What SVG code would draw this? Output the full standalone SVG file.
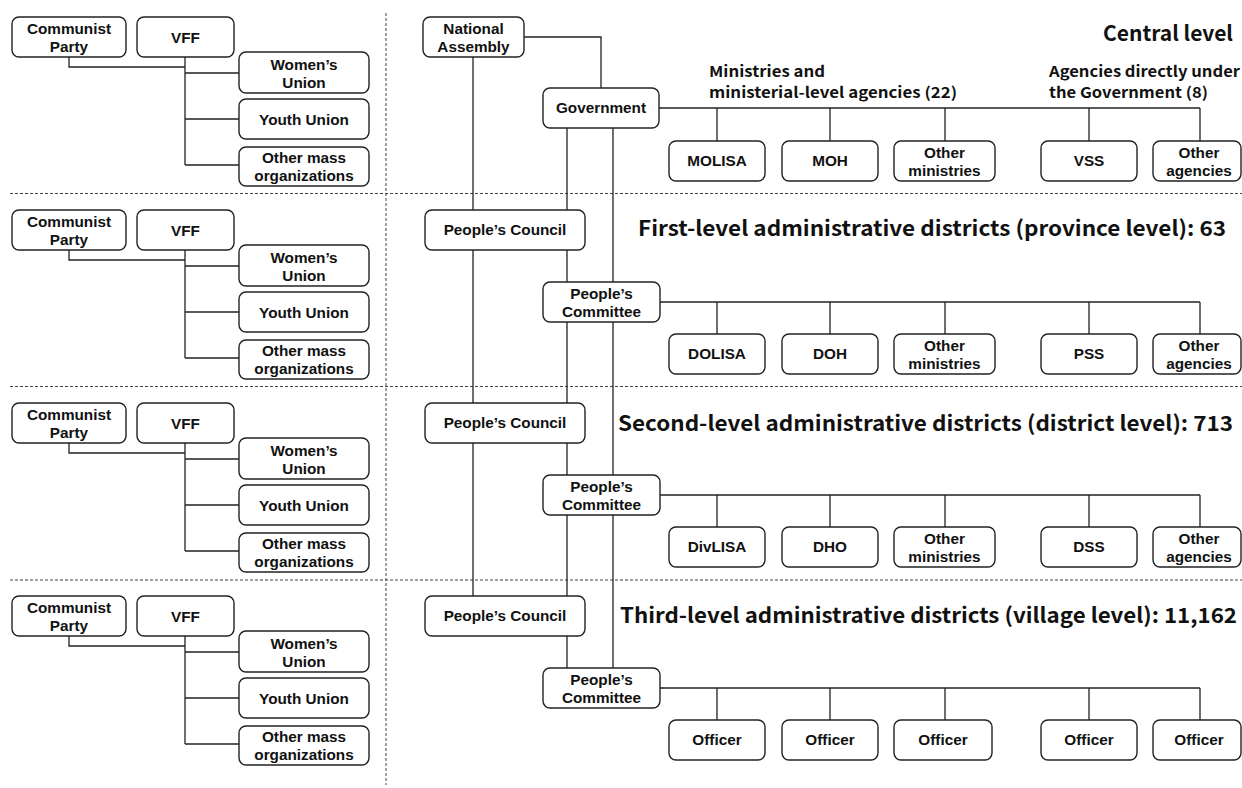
<svg xmlns="http://www.w3.org/2000/svg" width="1242" height="788" viewBox="0 0 1242 788">
<style>
.box{fill:#fff;stroke:#222;stroke-width:1.4}
.lbl{font-family:"Liberation Sans",Arial,Helvetica,sans-serif;font-weight:700;font-size:15.3px;fill:#111;text-anchor:middle}
.ttl{font-family:"Noto Sans CJK JP","Noto Sans",sans-serif;font-weight:700;font-size:21px;fill:#111}
.sub{font-family:"Noto Sans CJK JP","Noto Sans",sans-serif;font-weight:700;font-size:15px;fill:#111}
.ln{stroke:#222;stroke-width:1.3;fill:none}
.dash{stroke:#444;stroke-width:1;stroke-dasharray:3 2;fill:none}
</style>
<rect width="1242" height="788" fill="#fff"/>
<g id="separators">
<path class="dash" d="M10,193.5H1242M10,386.5H1242M10,580H1242M386,13V785"/>
</g>
<g id="connectors">
<g id="left-connectors">
<path class="ln" d="M69,57V67H185M185,57V165M185,73H239M185,119H239M185,165H239"/>
<path class="ln" transform="translate(0,193)" d="M69,57V67H185M185,57V165M185,73H239M185,119H239M185,165H239"/>
<path class="ln" transform="translate(0,386)" d="M69,57V67H185M185,57V165M185,73H239M185,119H239M185,165H239"/>
<path class="ln" transform="translate(0,579)" d="M69,57V67H185M185,57V165M185,73H239M185,119H239M185,165H239"/>
</g>
<g id="right-connectors">
<path class="ln" d="M524,37H601V88M473,57V210M567,128V210M613,128V282M659,108H1200M717,108V141M830,108V141M945,108V141M1089,108V141M1200,108V141"/>
<path class="ln" d="M473,250V403M567,250V282M567,322V403M613,322V475M660,302H1200M717,302V334M830,302V334M945,302V334M1089,302V334M1200,302V334"/>
<path class="ln" d="M473,443V596M567,443V475M567,515V596M613,515V668M660,495H1200M717,495V527M830,495V527M945,495V527M1089,495V527M1200,495V527"/>
<path class="ln" d="M567,636V668M660,688H1200M717,688V720M830,688V720M945,688V720M1089,688V720M1200,688V720"/>
</g>
</g>
<g id="left-row1">
<g id="cp1"><rect class="box" x="12" y="17" width="114" height="40" rx="7"/><text class="lbl" x="69" y="33.5">Communist</text><text class="lbl" x="69" y="51.5">Party</text></g>
<g id="vff1"><rect class="box" x="137" y="17" width="97" height="40" rx="7"/><text class="lbl" x="185.5" y="42.5">VFF</text></g>
<g id="wu1"><rect class="box" x="239" y="52" width="130" height="41" rx="7"/><text class="lbl" x="304" y="69.5">Women’s</text><text class="lbl" x="304" y="87.5">Union</text></g>
<g id="yu1"><rect class="box" x="239" y="99" width="130" height="40" rx="7"/><text class="lbl" x="304" y="124.5">Youth Union</text></g>
<g id="omo1"><rect class="box" x="239" y="147" width="130" height="39" rx="7"/><text class="lbl" x="304" y="163.3">Other mass</text><text class="lbl" x="304" y="181.3">organizations</text></g>
</g>
<g id="left-row2" transform="translate(0,193)">
<g id="cp2"><rect class="box" x="12" y="17" width="114" height="40" rx="7"/><text class="lbl" x="69" y="33.5">Communist</text><text class="lbl" x="69" y="51.5">Party</text></g>
<g id="vff2"><rect class="box" x="137" y="17" width="97" height="40" rx="7"/><text class="lbl" x="185.5" y="42.5">VFF</text></g>
<g id="wu2"><rect class="box" x="239" y="52" width="130" height="41" rx="7"/><text class="lbl" x="304" y="69.5">Women’s</text><text class="lbl" x="304" y="87.5">Union</text></g>
<g id="yu2"><rect class="box" x="239" y="99" width="130" height="40" rx="7"/><text class="lbl" x="304" y="124.5">Youth Union</text></g>
<g id="omo2"><rect class="box" x="239" y="147" width="130" height="39" rx="7"/><text class="lbl" x="304" y="163.3">Other mass</text><text class="lbl" x="304" y="181.3">organizations</text></g>
</g>
<g id="left-row3" transform="translate(0,386)">
<g id="cp3"><rect class="box" x="12" y="17" width="114" height="40" rx="7"/><text class="lbl" x="69" y="33.5">Communist</text><text class="lbl" x="69" y="51.5">Party</text></g>
<g id="vff3"><rect class="box" x="137" y="17" width="97" height="40" rx="7"/><text class="lbl" x="185.5" y="42.5">VFF</text></g>
<g id="wu3"><rect class="box" x="239" y="52" width="130" height="41" rx="7"/><text class="lbl" x="304" y="69.5">Women’s</text><text class="lbl" x="304" y="87.5">Union</text></g>
<g id="yu3"><rect class="box" x="239" y="99" width="130" height="40" rx="7"/><text class="lbl" x="304" y="124.5">Youth Union</text></g>
<g id="omo3"><rect class="box" x="239" y="147" width="130" height="39" rx="7"/><text class="lbl" x="304" y="163.3">Other mass</text><text class="lbl" x="304" y="181.3">organizations</text></g>
</g>
<g id="left-row4" transform="translate(0,579)">
<g id="cp4"><rect class="box" x="12" y="17" width="114" height="40" rx="7"/><text class="lbl" x="69" y="33.5">Communist</text><text class="lbl" x="69" y="51.5">Party</text></g>
<g id="vff4"><rect class="box" x="137" y="17" width="97" height="40" rx="7"/><text class="lbl" x="185.5" y="42.5">VFF</text></g>
<g id="wu4"><rect class="box" x="239" y="52" width="130" height="41" rx="7"/><text class="lbl" x="304" y="69.5">Women’s</text><text class="lbl" x="304" y="87.5">Union</text></g>
<g id="yu4"><rect class="box" x="239" y="99" width="130" height="40" rx="7"/><text class="lbl" x="304" y="124.5">Youth Union</text></g>
<g id="omo4"><rect class="box" x="239" y="147" width="130" height="39" rx="7"/><text class="lbl" x="304" y="163.3">Other mass</text><text class="lbl" x="304" y="181.3">organizations</text></g>
</g>
<g id="central">
<g id="na"><rect class="box" x="423" y="17" width="101" height="40" rx="7"/><text class="lbl" x="473.5" y="33.7">National</text><text class="lbl" x="473.5" y="51.7">Assembly</text></g>
<g id="gov"><rect class="box" x="543" y="88" width="116" height="40" rx="7"/><text class="lbl" x="601" y="113.4">Government</text></g>
<g id="molisa"><rect class="box" x="669" y="141" width="96" height="40" rx="7"/><text class="lbl" x="717" y="166.4">MOLISA</text></g>
<g id="moh"><rect class="box" x="782" y="141" width="96" height="40" rx="7"/><text class="lbl" x="830" y="166.4">MOH</text></g>
<g id="othmin1"><rect class="box" x="894" y="141" width="101" height="40" rx="7"/><text class="lbl" x="944.5" y="157.7">Other</text><text class="lbl" x="944.5" y="175.7">ministries</text></g>
<g id="vss"><rect class="box" x="1041" y="141" width="96" height="40" rx="7"/><text class="lbl" x="1089" y="166.4">VSS</text></g>
<g id="othag1"><rect class="box" x="1153" y="141" width="88" height="40" rx="7"/><text class="lbl" x="1199" y="157.7">Other</text><text class="lbl" x="1199" y="175.7">agencies</text></g>
</g>
<g id="province">
<g id="council2"><rect class="box" x="425" y="210" width="160" height="40" rx="7"/><text class="lbl" x="505" y="235.4">People’s Council</text></g>
<g id="committee2"><rect class="box" x="543" y="282" width="117" height="40" rx="7"/><text class="lbl" x="601.5" y="298.7">People’s</text><text class="lbl" x="601.5" y="316.7">Committee</text></g>
<g id="dolisa"><rect class="box" x="669" y="334" width="96" height="40" rx="7"/><text class="lbl" x="717" y="359.4">DOLISA</text></g>
<g id="doh"><rect class="box" x="782" y="334" width="96" height="40" rx="7"/><text class="lbl" x="830" y="359.4">DOH</text></g>
<g id="othmin2"><rect class="box" x="894" y="334" width="101" height="40" rx="7"/><text class="lbl" x="944.5" y="350.7">Other</text><text class="lbl" x="944.5" y="368.7">ministries</text></g>
<g id="pss"><rect class="box" x="1041" y="334" width="96" height="40" rx="7"/><text class="lbl" x="1089" y="359.4">PSS</text></g>
<g id="othag2"><rect class="box" x="1153" y="334" width="88" height="40" rx="7"/><text class="lbl" x="1199" y="350.7">Other</text><text class="lbl" x="1199" y="368.7">agencies</text></g>
</g>
<g id="district">
<g id="council3"><rect class="box" x="425" y="403" width="160" height="40" rx="7"/><text class="lbl" x="505" y="428.4">People’s Council</text></g>
<g id="committee3"><rect class="box" x="543" y="475" width="117" height="40" rx="7"/><text class="lbl" x="601.5" y="491.7">People’s</text><text class="lbl" x="601.5" y="509.7">Committee</text></g>
<g id="divlisa"><rect class="box" x="669" y="527" width="96" height="40" rx="7"/><text class="lbl" x="717" y="552.4">DivLISA</text></g>
<g id="dho"><rect class="box" x="782" y="527" width="96" height="40" rx="7"/><text class="lbl" x="830" y="552.4">DHO</text></g>
<g id="othmin3"><rect class="box" x="894" y="527" width="101" height="40" rx="7"/><text class="lbl" x="944.5" y="543.7">Other</text><text class="lbl" x="944.5" y="561.7">ministries</text></g>
<g id="dss"><rect class="box" x="1041" y="527" width="96" height="40" rx="7"/><text class="lbl" x="1089" y="552.4">DSS</text></g>
<g id="othag3"><rect class="box" x="1153" y="527" width="88" height="40" rx="7"/><text class="lbl" x="1199" y="543.7">Other</text><text class="lbl" x="1199" y="561.7">agencies</text></g>
</g>
<g id="village">
<g id="council4"><rect class="box" x="425" y="596" width="160" height="40" rx="7"/><text class="lbl" x="505" y="621.4">People’s Council</text></g>
<g id="committee4"><rect class="box" x="543" y="668" width="117" height="40" rx="7"/><text class="lbl" x="601.5" y="684.7">People’s</text><text class="lbl" x="601.5" y="702.7">Committee</text></g>
<g id="off1"><rect class="box" x="669" y="720" width="96" height="40" rx="7"/><text class="lbl" x="717" y="745.4">Officer</text></g>
<g id="off2"><rect class="box" x="782" y="720" width="96" height="40" rx="7"/><text class="lbl" x="830" y="745.4">Officer</text></g>
<g id="off3"><rect class="box" x="894" y="720" width="98" height="40" rx="7"/><text class="lbl" x="943" y="745.4">Officer</text></g>
<g id="off4"><rect class="box" x="1041" y="720" width="96" height="40" rx="7"/><text class="lbl" x="1089" y="745.4">Officer</text></g>
<g id="off5"><rect class="box" x="1153" y="720" width="88" height="40" rx="7"/><text class="lbl" x="1199" y="745.4">Officer</text></g>
</g>
<g id="titles">
<text class="ttl" x="1233" y="40.5" text-anchor="end">Central level</text>
<text class="sub" x="709" y="76.5" textLength="116" lengthAdjust="spacingAndGlyphs">Ministries and</text>
<text class="sub" x="709" y="97.5" textLength="248" lengthAdjust="spacingAndGlyphs">ministerial-level agencies (22)</text>
<text class="sub" x="1049" y="76.5" textLength="191" lengthAdjust="spacingAndGlyphs">Agencies directly under</text>
<text class="sub" x="1049" y="97.5" textLength="159" lengthAdjust="spacingAndGlyphs">the Government (8)</text>
<text class="ttl" x="638" y="236" textLength="588" lengthAdjust="spacingAndGlyphs">First-level administrative districts (province level): 63</text>
<text class="ttl" x="618" y="431" textLength="615" lengthAdjust="spacingAndGlyphs">Second-level administrative districts (district level): 713</text>
<text class="ttl" x="620" y="623" textLength="617" lengthAdjust="spacingAndGlyphs">Third-level administrative districts (village level): 11,162</text>
</g>
</svg>
